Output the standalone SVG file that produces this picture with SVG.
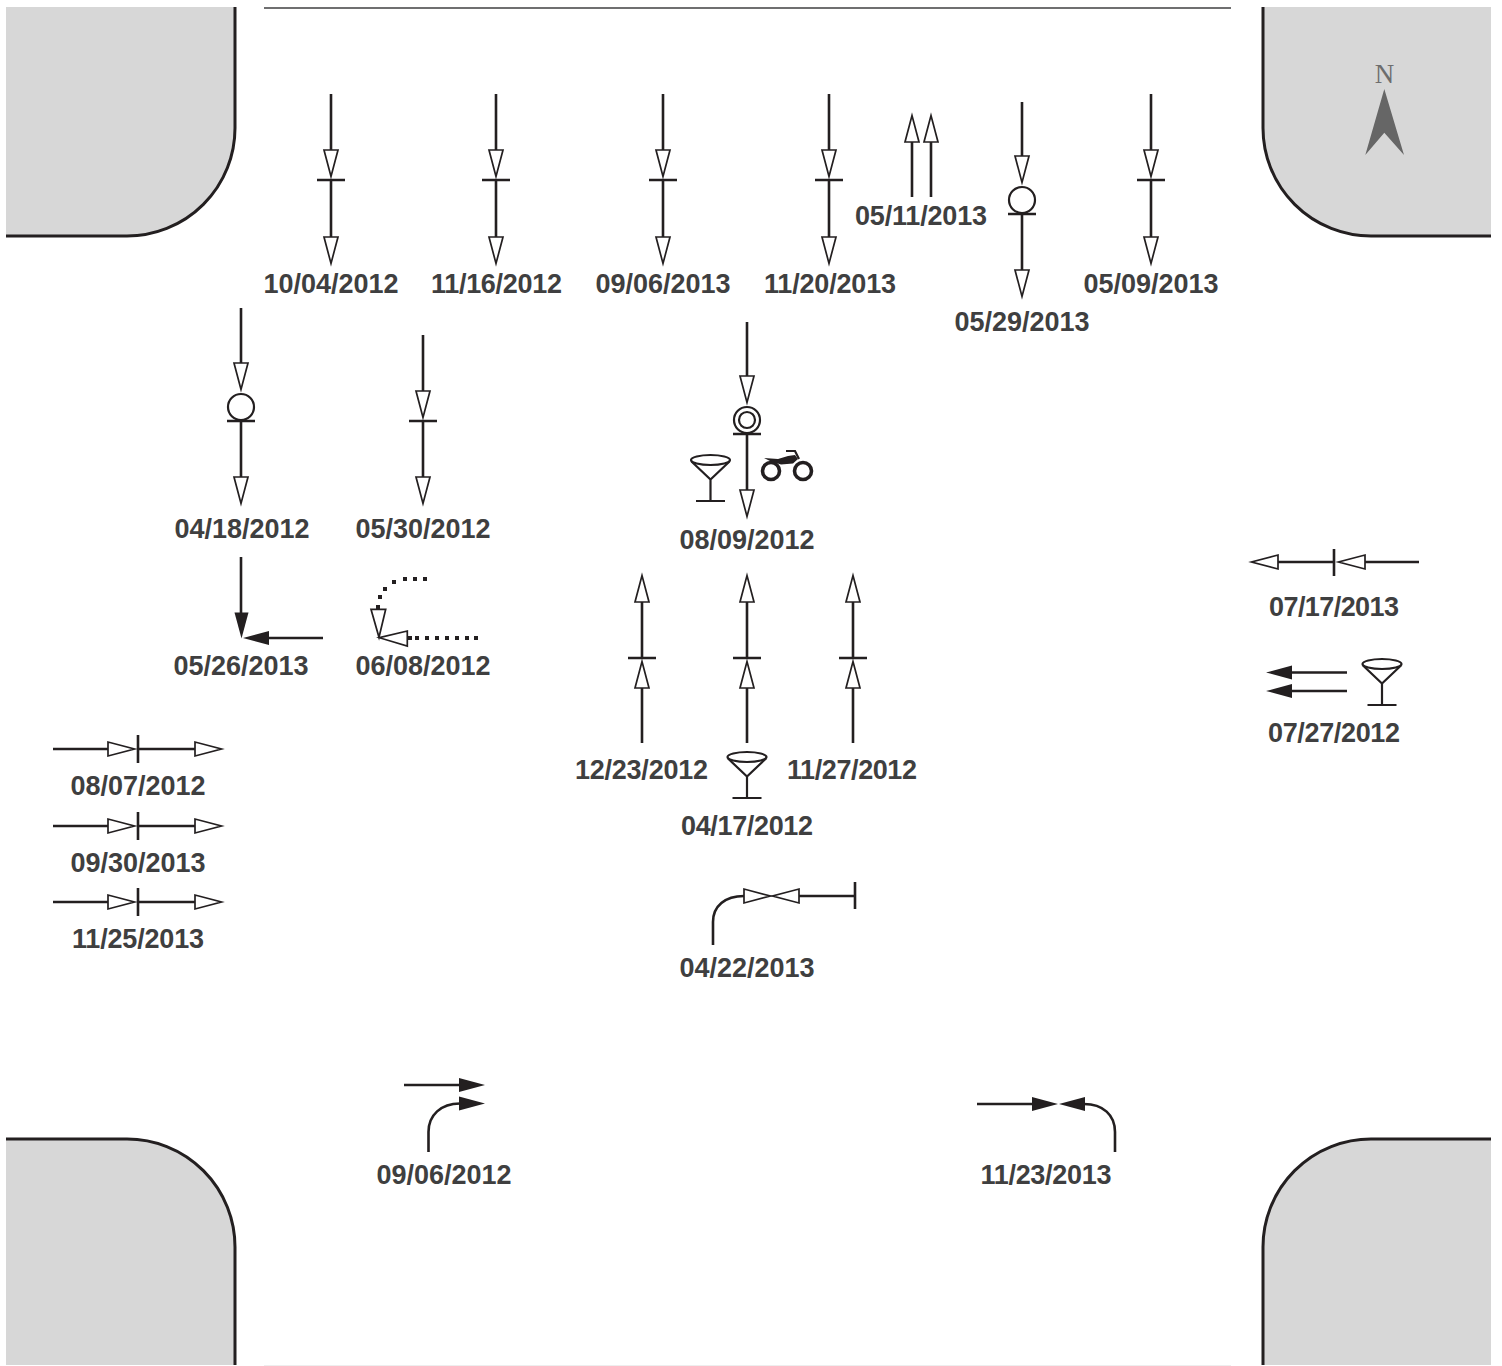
<svg xmlns="http://www.w3.org/2000/svg" xmlns:xlink="http://www.w3.org/1999/xlink" width="1502" height="1366" viewBox="0 0 1502 1366">
<style>
.l{fill:none;stroke:#231f20;stroke-width:2.6}
.t{fill:none;stroke:#231f20;stroke-width:2.2}
.h{fill:#fff;stroke:#231f20;stroke-width:1.7}
.f{fill:#231f20;stroke:none}
.c{fill:#d7d7d7;stroke:none}
.e{fill:none;stroke:#231f20;stroke-width:3}
text{font-family:"Liberation Sans",Arial,sans-serif;font-weight:700;font-size:27px;fill:#3f3f40;text-anchor:middle}
</style>
<defs>
<polygon id="o" class="h" points="-28,-7 -28,7 -1.500,0"/>
<polygon id="s" class="f" points="-26,-7 -26,7 0,0"/>
<g id="glass"><ellipse cx="0" cy="0" rx="19.500" ry="5" class="t"/><path class="t" d="M-19,1.500 L0,19.500 L19,1.500 M0,19.500 V41 M-14.500,41 H14.500"/></g>
</defs>
<rect width="1502" height="1366" fill="#fff"/>
<g id="road">
<path class="c" d="M6,7H235V128A108,108 0 0 1 127,236H6Z"/><path class="e" d="M235,7V128A108,108 0 0 1 127,236H6"/>
<path class="c" d="M1491,7H1263V128A108,108 0 0 0 1371,236H1491Z"/><path class="e" d="M1263,7V128A108,108 0 0 0 1371,236H1491"/>
<path class="c" d="M6,1365H235V1247A108,108 0 0 0 127,1139H6Z"/><path class="e" d="M235,1365V1247A108,108 0 0 0 127,1139H6"/>
<path class="c" d="M1491,1365H1263V1247A108,108 0 0 1 1371,1139H1491Z"/><path class="e" d="M1263,1365V1247A108,108 0 0 1 1371,1139H1491"/>
<path d="M264,8H1231" fill="none" stroke="#3f3f40" stroke-width="1.6"/>
<path d="M264,1365.500H1231" fill="none" stroke="#eee" stroke-width="1"/>
</g>
<g id="north">
<text x="1384.500" y="83" style="font-family:'Liberation Serif',serif;font-weight:400;font-size:27px;fill:#6d6d6d">N</text>
<polygon points="1384.300,89 1404,155 1384.300,132.700 1365.300,155" fill="#666"/>
</g>
<g id="connectors">
<path class="l" d="M331,94V151M331,180V238M317,180H345"/>
<use xlink:href="#o" transform="translate(331,178) rotate(90)"/><use xlink:href="#o" transform="translate(331,265) rotate(90)"/>
<path class="l" d="M496,94V151M496,180V238M482,180H510"/>
<use xlink:href="#o" transform="translate(496,178) rotate(90)"/><use xlink:href="#o" transform="translate(496,265) rotate(90)"/>
<path class="l" d="M663,94V151M663,180V238M649,180H677"/>
<use xlink:href="#o" transform="translate(663,178) rotate(90)"/><use xlink:href="#o" transform="translate(663,265) rotate(90)"/>
<path class="l" d="M829,94V151M829,180V238M815,180H843"/>
<use xlink:href="#o" transform="translate(829,178) rotate(90)"/><use xlink:href="#o" transform="translate(829,265) rotate(90)"/>
<path class="l" d="M1151,94V151M1151,180V238M1137,180H1165"/>
<use xlink:href="#o" transform="translate(1151,178) rotate(90)"/><use xlink:href="#o" transform="translate(1151,265) rotate(90)"/>
<path class="l" d="M912,197V141M931,197V141"/>
<use xlink:href="#o" transform="translate(912,114) rotate(-90)"/><use xlink:href="#o" transform="translate(931,114) rotate(-90)"/>
<path class="l" d="M1022,102V157M1022,214V271M1008,214H1036"/>
<use xlink:href="#o" transform="translate(1022,184) rotate(90)"/><use xlink:href="#o" transform="translate(1022,298) rotate(90)"/>
<circle cx="1022" cy="200" r="13" class="t"/>
<path class="l" d="M241,308V364M241,421V478M227,421H255"/>
<use xlink:href="#o" transform="translate(241,391) rotate(90)"/><use xlink:href="#o" transform="translate(241,505) rotate(90)"/>
<circle cx="241" cy="407" r="13" class="t"/>
<path class="l" d="M423,335V392M423,421V478M409,421H437"/>
<use xlink:href="#o" transform="translate(423,419) rotate(90)"/><use xlink:href="#o" transform="translate(423,505) rotate(90)"/>
<path class="l" d="M747,322V377M747,434V491M733,434H761"/>
<use xlink:href="#o" transform="translate(747,404) rotate(90)"/><use xlink:href="#o" transform="translate(747,518) rotate(90)"/>
<circle cx="747" cy="420" r="13" class="t"/><circle cx="747" cy="420" r="8" class="t"/>
<path class="l" d="M241,557V613M323,638H268"/>
<use xlink:href="#s" transform="translate(241.500,638.500) rotate(90)"/><use xlink:href="#s" transform="translate(243,638) rotate(180)"/>
<path class="f" d="M403,577h4v4h-4zM413,577h4v4h-4zM423,577h4v4h-4zM392,580h4v4h-4zM383,587h4v4h-4zM378,595h4v4h-4zM376,605h4v4h-4zM408,636h4v4h-4zM415,636h4v4h-4zM425,636h4v4h-4zM435,636h4v4h-4zM445,636h4v4h-4zM455,636h4v4h-4zM465,636h4v4h-4zM474,636h4v4h-4z"/>
<polygon class="h" points="371,609.300 385.700,609.300 379,637.300"/>
<polygon class="h" points="407.300,631 407.300,646 379.300,637.700"/>
<path class="l" d="M642,743V687M642,658V601M628,658H656"/>
<use xlink:href="#o" transform="translate(642,574) rotate(-90)"/><use xlink:href="#o" transform="translate(642,660) rotate(-90)"/>
<path class="l" d="M747,743V687M747,658V601M733,658H761"/>
<use xlink:href="#o" transform="translate(747,574) rotate(-90)"/><use xlink:href="#o" transform="translate(747,660) rotate(-90)"/>
<path class="l" d="M853,743V687M853,658V601M839,658H867"/>
<use xlink:href="#o" transform="translate(853,574) rotate(-90)"/><use xlink:href="#o" transform="translate(853,660) rotate(-90)"/>
<path class="l" d="M53,749H109M138,749H196M138,735V763"/>
<use xlink:href="#o" transform="translate(136,749)"/><use xlink:href="#o" transform="translate(223,749)"/>
<path class="l" d="M53,826H109M138,826H196M138,812V840"/>
<use xlink:href="#o" transform="translate(136,826)"/><use xlink:href="#o" transform="translate(223,826)"/>
<path class="l" d="M53,902H109M138,902H196M138,888V916"/>
<use xlink:href="#o" transform="translate(136,902)"/><use xlink:href="#o" transform="translate(223,902)"/>
<path class="l" d="M1419,562H1364M1334,562H1277M1334,549V576"/>
<use xlink:href="#o" transform="translate(1337,562) rotate(180)"/><use xlink:href="#o" transform="translate(1250,562) rotate(180)"/>
<path class="l" d="M1347,672.500H1291M1347,691H1291"/>
<use xlink:href="#s" transform="translate(1266,672.500) rotate(180)"/><use xlink:href="#s" transform="translate(1266,691) rotate(180)"/>
<path class="l" d="M713,945V922C713,906 725,896 744,896"/>
<path class="l" d="M855,896H799M855,882V909"/>
<use xlink:href="#o" transform="translate(772,896)"/><use xlink:href="#o" transform="translate(771,896) rotate(180)"/>
<path class="l" d="M404,1085H460"/><use xlink:href="#s" transform="translate(485,1085)"/>
<path class="l" d="M428.500,1152V1132C428.500,1115 441,1103.500 460,1103.500"/><use xlink:href="#s" transform="translate(485,1103.500)"/>
<path class="l" d="M977,1104H1034"/><use xlink:href="#s" transform="translate(1058,1104)"/>
<path class="l" d="M1115,1152V1132C1115,1115 1103,1104 1084,1104"/><use xlink:href="#s" transform="translate(1059,1104) rotate(180)"/>
</g>
<g id="icons">
<use xlink:href="#glass" transform="translate(710.500,460)"/>
<use xlink:href="#glass" transform="translate(747,757)"/>
<use xlink:href="#glass" transform="translate(1382,664)"/>
<g id="motorcycle">
<circle cx="771" cy="471" r="8.500" fill="none" stroke="#231f20" stroke-width="3.600"/>
<circle cx="803" cy="471" r="8.500" fill="none" stroke="#231f20" stroke-width="3.600"/>
<path class="f" d="M764,458 L778,459 L788,456 L795,455 L798,459 L793,463.500 L781,464.500 L770,461Z"/>
<path class="t" d="M786,451H795L799,459"/>
</g>
</g>
<g id="labels">
<text x="331" y="293">10/04/2012</text>
<text x="496.500" y="293" textLength="131">11/16/2012</text>
<text x="663" y="293">09/06/2013</text>
<text x="830" y="293" textLength="132">11/20/2013</text>
<text x="921" y="225" textLength="132">05/11/2013</text>
<text x="1022" y="331">05/29/2013</text>
<text x="1151" y="293">05/09/2013</text>
<text x="242" y="538">04/18/2012</text>
<text x="423" y="538">05/30/2012</text>
<text x="747" y="549">08/09/2012</text>
<text x="241" y="675">05/26/2013</text>
<text x="423" y="675">06/08/2012</text>
<text x="641.500" y="779" textLength="133">12/23/2012</text>
<text x="852" y="779" textLength="130">11/27/2012</text>
<text x="747" y="835" textLength="132">04/17/2012</text>
<text x="138" y="795">08/07/2012</text>
<text x="138" y="872">09/30/2013</text>
<text x="138" y="948" textLength="132">11/25/2013</text>
<text x="1334" y="616" textLength="130">07/17/2013</text>
<text x="1334" y="742" textLength="132">07/27/2012</text>
<text x="747" y="977">04/22/2013</text>
<text x="444" y="1184">09/06/2012</text>
<text x="1046" y="1184" textLength="131">11/23/2013</text>
</g>
</svg>
